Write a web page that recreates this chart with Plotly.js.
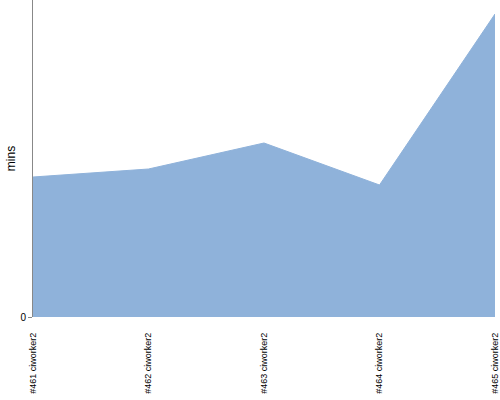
<!DOCTYPE html>
<html><head><meta charset="utf-8">
<script src="https://cdn.plot.ly/plotly-3.0.1.min.js"></script>
<style>html,body{margin:0;padding:0;background:#fff}#c{width:500px;height:400px}</style>
</head><body><div id="c"></div>
<script>
const categories = ["#461 ciworker2", "#462 ciworker2", "#463 ciworker2", "#464 ciworker2", "#465 ciworker2"];
const mins = [14.0, 14.8, 17.4, 13.2, 30.3];

Plotly.newPlot('c', [{
  x: categories, y: mins, type: 'scatter', mode: 'lines',
  fill: 'tozeroy', fillcolor: '#8fb2da', line: {color: '#8fb2da', width: 1}
}], {
  width: 500, height: 400,
  margin: {l: 33, r: 5, t: 0, b: 83},
  paper_bgcolor: '#fff', plot_bgcolor: '#fff',
  font: {family: 'Liberation Sans, Arial, sans-serif', color: '#000'},
  showlegend: false,
  xaxis: {
    type: 'category', range: [0, 4], tickangle: -90, showgrid: false, zeroline: false,
    showline: false, ticks: '', ticklabelstandoff: 13, tickfont: {size: 9, color: '#000'}
  },
  yaxis: {
    range: [0, 31.7], tickvals: [0], ticktext: ['0'], showgrid: false, zeroline: false,
    showline: true, linecolor: '#888', linewidth: 1, ticks: 'outside', ticklen: 4, tickcolor: '#888',
    tickfont: {size: 10, color: '#000'},
    title: {text: 'mins', font: {size: 12, color: '#000'}, standoff: 2}
  }
}, {displayModeBar: false, staticPlot: true});
</script></body></html>
